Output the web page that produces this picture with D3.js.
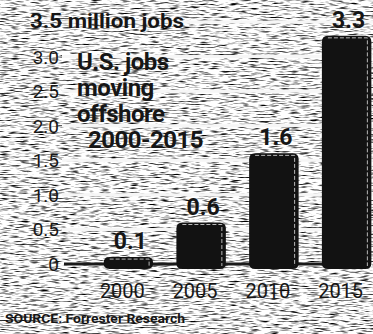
<!DOCTYPE html>
<html>
<head>
<meta charset="utf-8">
<script src="https://cdn.jsdelivr.net/npm/d3@7"></script>
<style>
  body { margin: 0; background: #c8c8c8; }
  svg { display: block; }
  text { font-family: Roboto, "Liberation Sans", sans-serif; fill: #161616; }
</style>
</head>
<body>
<div class="offshore-chart"></div>
<script>
// data
const years = ['2000', '2005', '2010', '2015'];
const jobs = [0.1, 0.6, 1.6, 3.3];
const tickValues = [0, 0.5, 1.0, 1.5, 2.0, 2.5, 3.0, 3.5];
const tickLabels = ['0', '0.5', '1.0', '1.5', '2.0', '2.5', '3.0', '3.5'];
const titleLines = ['U.S. jobs', 'moving', 'offshore', '2000-2015'];

const width = 373;
const height = 334;

const svg = d3.select('.offshore-chart')
    .append('svg')
    .attr('width', width)
    .attr('height', height);

// grainy newsprint background
const defs = svg.append('defs');
const grain = defs.append('filter')
    .attr('id', 'grain')
    .attr('x', 0).attr('y', 0).attr('width', '100%').attr('height', '100%')
    .attr('color-interpolation-filters', 'sRGB');
grain.append('feTurbulence')
    .attr('type', 'fractalNoise')
    .attr('baseFrequency', '0.1 0.7')
    .attr('numOctaves', 2)
    .attr('seed', 7);
grain.append('feColorMatrix')
    .attr('type', 'matrix')
    .attr('values', '3 0 0 0 -0.55  3 0 0 0 -0.55  3 0 0 0 -0.55  0 0 0 0 1');

svg.append('rect')
    .attr('width', width)
    .attr('height', height)
    .attr('filter', 'url(#grain)');

const y = d3.scaleLinear()
    .domain([0, 3.5])
    .range([264, 22]);

const x = d3.scaleBand()
    .domain(years)
    .range([100, 375])
    .paddingInner(0.32)
    .paddingOuter(0.05);

// white grid streaks
svg.selectAll('.grid')
    .data(tickValues.slice(1))
    .enter()
    .append('line')
    .attr('class', 'grid')
    .attr('x1', 62)
    .attr('x2', width)
    .attr('y1', d => y(d))
    .attr('y2', d => y(d))
    .attr('stroke', '#f6f6f6')
    .attr('stroke-width', 3);

// tick labels
svg.selectAll('.tick-label')
    .data(tickValues)
    .enter()
    .append('text')
    .attr('class', 'tick-label')
    .attr('x', 59)
    .attr('y', d => y(d) + 7)
    .attr('text-anchor', 'end')
    .attr('font-size', '19px')
    .text((d, i) => i == tickValues.length - 1 ? '' : tickLabels[i]);

// top label with units
svg.append('text')
    .attr('x', 30)
    .attr('y', y(3.5) + 6)
    .attr('font-size', '20px')
    .attr('font-weight', 'bold')
    .attr('textLength', 154)
    .attr('lengthAdjust', 'spacingAndGlyphs')
    .text(tickLabels[tickLabels.length - 1] + ' million jobs');

// baseline
svg.append('line')
    .attr('x1', 64)
    .attr('x2', 335)
    .attr('y1', y(0))
    .attr('y2', y(0))
    .attr('stroke', '#1a1a1a')
    .attr('stroke-width', 3);

const bars = svg.selectAll('.bar')
    .data(years)
    .enter();

bars.append('path')
    .attr('class', 'bar')
    .attr('d', (d, i) => {
      const x0 = x(d), x1 = x(d) + x.bandwidth();
      const top = y(jobs[i]), bottom = y(0) + 5;
      const r = Math.min(6, (bottom - top) / 2);
      return `M${x0},${bottom - r} L${x0},${top + r} Q${x0},${top} ${x0 + r},${top}` +
             ` L${x1 - r},${top} Q${x1},${top} ${x1},${top + r} L${x1},${bottom - r}` +
             ` Q${x1},${bottom} ${x1 - r},${bottom} L${x0 + r},${bottom} Q${x0},${bottom} ${x0},${bottom - r}Z`;
    })
    .attr('fill', '#121212');

// faint dashed edge on each bar
bars.append('path')
    .attr('d', (d, i) => {
      const xr = x(d) + x.bandwidth() - 4;
      const top = y(jobs[i]) + 2;
      return `M${x(d) + 6},${top} L${xr},${top} L${xr},${y(0) + 2}`;
    })
    .attr('fill', 'none')
    .attr('stroke', '#b8b8b8')
    .attr('stroke-width', 1)
    .attr('stroke-dasharray', '4,2');

// value labels
bars.append('text')
    .attr('x', d => x(d) + x.bandwidth() / 2 + 2)
    .attr('y', (d, i) => y(jobs[i]) - 8)
    .attr('text-anchor', 'middle')
    .attr('font-size', '23px')
    .attr('font-weight', 'bold')
    .text((d, i) => jobs[i].toFixed(1));

// year labels
bars.append('text')
    .attr('x', d => x(d) + x.bandwidth() / 2 - 6)
    .attr('y', 298)
    .attr('text-anchor', 'middle')
    .attr('font-size', '20px')
    .text(d => d);

// title
svg.selectAll('.title')
    .data(titleLines)
    .enter()
    .append('text')
    .attr('class', 'title')
    .attr('x', (d, i) => i == 3 ? 88 : 77)
    .attr('y', (d, i) => 70 + i * 26)
    .attr('font-size', '24px')
    .attr('font-weight', 'bold')
    .attr('letter-spacing', '-0.5px')
    .text(d => d);

svg.append('text')
    .attr('x', 5)
    .attr('y', 323)
    .attr('font-size', '13px')
    .attr('font-weight', 'bold')
    .attr('textLength', 180)
    .attr('lengthAdjust', 'spacingAndGlyphs')
    .text('SOURCE: Forrester Research');
</script>
</body>
</html>
